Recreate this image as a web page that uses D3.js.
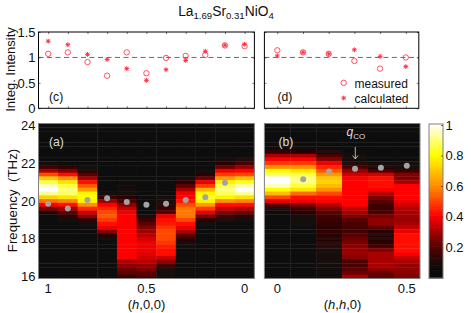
<!DOCTYPE html>
<html><head><meta charset="utf-8">
<script src="https://cdn.jsdelivr.net/npm/d3@7"></script>
<style>
html,body{margin:0;padding:0;background:#fff}
svg{display:block}
text{font-family:"Liberation Sans",Arial,sans-serif;fill:#111}
</style></head><body><div id="c"></div>
<script>
// ---- data ----
const hA = [1,.9,.8,.7,.6,.5,.4,.3,.2,.1,0];
const hB = [0,.1,.2,.3,.4,.5];
const measuredC   = [1.07,1.10,.91,.64,1.10,.69,.99,1.03,1.05,1.235,1.22];
const calculatedC = [1.32,1.25,1.06,.96,.78,.55,.76,.94,1.12,1.24,1.26];
const measuredD   = [1.14,1.10,1.07,.93,.78,1.00];
const calculatedD = [1.03,1.10,1.07,1.15,1.02,.82];
const peakA = [19.86,19.6,20.05,20.14,19.95,19.8,19.86,20.05,20.2,20.96];
const peakHA = [1,.9,.8,.7,.6,.5,.4,.3,.2,.1];
const peakB = [21.15,21.56,21.7,21.76,21.87];
const peakHB = [.1,.2,.3,.4,.5];
const freqTop = 24, freqStep = 0.2;
// intensity per column, rows from 24 THz down to 16 THz in 0.2 THz steps (41 rows)
const mapA = [
[.02,.02,.02,.02,.02,.02,.02,.02,.02,.04,.07,.15,.3,.5,.7,.85,.95,1,.92,.72,.55,.4,.25,.12,.03,.02,.02,.02,.02,.02,.02,.02,.02,.02,.02,.02,.02,.02,.02,.02,.02],
[.02,.02,.02,.02,.02,.02,.02,.02,.02,.03,.05,.13,.25,.42,.6,.75,.85,.9,.88,.75,.58,.42,.3,.2,.13,.07,.03,.02,.02,.02,.02,.02,.02,.02,.02,.02,.02,.02,.02,.02,.02],
[.02,.02,.02,.02,.02,.02,.02,.02,.02,.03,.05,.07,.1,.2,.3,.42,.52,.62,.78,.8,.78,.6,.45,.35,.27,.15,.06,.03,.02,.02,.02,.02,.02,.02,.02,.02,.02,.02,.02,.02,.02],
[.02,.02,.02,.02,.02,.02,.02,.02,.02,.02,.02,.02,.02,.02,.02,.03,.03,.04,.06,.15,.28,.4,.45,.5,.52,.48,.42,.38,.25,.12,.06,.04,.03,.02,.02,.02,.02,.02,.02,.02,.02],
[.02,.02,.02,.02,.02,.02,.02,.02,.02,.02,.02,.03,.03,.04,.05,.05,.06,.07,.08,.12,.18,.27,.33,.38,.4,.4,.4,.4,.4,.4,.4,.4,.4,.4,.4,.4,.3,.27,.22,.2,.15],
[.02,.02,.02,.02,.02,.02,.02,.02,.02,.02,.02,.02,.02,.02,.02,.02,.02,.02,.02,.02,.02,.03,.04,.05,.08,.15,.2,.25,.29,.32,.35,.38,.38,.38,.37,.35,.32,.28,.25,.2,.18],
[.02,.02,.02,.02,.02,.02,.02,.02,.02,.02,.02,.02,.02,.02,.03,.03,.04,.04,.05,.07,.09,.11,.15,.2,.38,.42,.43,.47,.5,.5,.5,.47,.44,.42,.42,.34,.26,.16,.1,.08,.06],
[.02,.02,.02,.02,.02,.02,.02,.02,.02,.02,.02,.02,.03,.05,.07,.12,.2,.3,.38,.4,.43,.5,.56,.57,.56,.5,.42,.38,.3,.2,.13,.08,.06,.03,.02,.02,.02,.02,.02,.02,.02],
[.02,.02,.02,.02,.02,.02,.02,.02,.02,.02,.03,.05,.08,.12,.22,.38,.48,.66,.78,.82,.78,.62,.48,.38,.25,.13,.06,.03,.02,.02,.02,.02,.02,.02,.02,.02,.02,.02,.02,.02,.02],
[.02,.02,.02,.02,.02,.02,.02,.03,.05,.08,.12,.22,.38,.48,.62,.78,.87,.9,.87,.78,.6,.42,.34,.25,.17,.1,.05,.03,.02,.02,.02,.02,.02,.02,.02,.02,.02,.02,.02,.02,.02],
[.02,.02,.02,.02,.02,.02,.02,.03,.05,.1,.17,.28,.4,.5,.68,.82,.93,1,.92,.75,.58,.42,.32,.23,.13,.08,.04,.02,.02,.02,.02,.02,.02,.02,.02,.02,.02,.02,.02,.02,.02]
];
const mapB = [
[.02,.02,.02,.02,.02,.03,.05,.14,.3,.4,.48,.6,.8,.88,1,1,.95,.8,.68,.5,.38,.2,.1,.05,.03,.02,.02,.02,.02,.02,.02,.02,.02,.02,.02,.02,.02,.02,.02,.02,.02],
[.02,.02,.02,.02,.02,.03,.05,.12,.3,.4,.48,.6,.75,.85,.9,.9,.85,.75,.55,.42,.38,.25,.15,.12,.08,.07,.06,.05,.04,.03,.03,.03,.02,.02,.02,.02,.02,.02,.02,.02,.02],
[.02,.02,.02,.02,.02,.03,.05,.1,.17,.25,.38,.45,.52,.62,.7,.72,.68,.6,.5,.42,.4,.32,.25,.2,.16,.15,.13,.12,.13,.12,.11,.11,.1,.09,.08,.08,.07,.07,.06,.06,.06],
[.02,.02,.02,.02,.02,.03,.04,.05,.06,.07,.1,.18,.28,.34,.4,.4,.4,.4,.4,.4,.4,.4,.33,.3,.25,.2,.17,.16,.16,.2,.22,.24,.27,.28,.28,.26,.18,.17,.2,.22,.3],
[.02,.02,.02,.02,.02,.02,.03,.03,.04,.05,.07,.1,.18,.35,.42,.42,.42,.4,.32,.24,.2,.15,.15,.17,.24,.27,.27,.2,.12,.11,.11,.12,.17,.25,.3,.3,.3,.3,.27,.22,.2],
[.02,.02,.02,.02,.02,.02,.03,.03,.04,.05,.06,.08,.15,.25,.25,.3,.4,.4,.4,.4,.38,.35,.32,.3,.29,.28,.3,.33,.38,.42,.42,.42,.42,.42,.4,.34,.3,.28,.27,.26,.25]
];
const colorStops = [[0,"#0a0a0a"],[.05,"#0e0a0a"],[.1,"#200808"],[.2,"#5a0000"],[.3,"#a80000"],[.4,"#ff0000"],[.5,"#ff4a00"],[.6,"#ff9000"],[.7,"#ffc800"],[.8,"#ffff00"],[.9,"#ffff80"],[1,"#ffffff"]];
const yTicksTop = [0,.5,1,1.5], yTicksTopLabels = ["0","0.5","1","1.5"];
const yTicksFreq = [16,18,20,22,24];
const cbTicks = [.2,.4,.6,.8,1];

// ---- layout ----
const W=471,H=313;
const svg=d3.select("#c").append("svg").attr("width",W).attr("height",H);
const red="#ff2a3c", frame="#000", heatFrame="#808080";
const color=d3.scaleLinear().domain(colorStops.map(d=>d[0])).range(colorStops.map(d=>d[1])).clamp(true);

const defs=svg.append("defs");
defs.append("filter").attr("id","soft").attr("x","-2%").attr("y","-2%").attr("width","104%").attr("height","104%")
  .append("feGaussianBlur").attr("stdDeviation",.45);

const xC=d3.scaleLinear().domain([1,0]).range([48.2,244.6]);
const xA=xC;
const xD=d3.scaleLinear().domain([0,.5]).range([277.3,405.8]);
const xB=d3.scaleLinear().domain([0,.5]).range([277.3,406.8]);
const yTop=d3.scaleLinear().domain([0,1.5]).range([108.3,32]);
const yF=d3.scaleLinear().domain([16,24]).range([276.6,125.4]);
const yCb=d3.scaleLinear().domain([0,1]).range([277.5,125]);

function clean(sel){sel.select(".domain").remove();sel.selectAll("line").attr("stroke","#333").attr("stroke-width",.7);}
function star(sel){
  sel.attr("d","M-2.4,0H2.4M0,-2.4V2.4M-1.8,-1.8L1.8,1.8M-1.8,1.8L1.8,-1.8")
    .attr("fill","none").attr("stroke",red).attr("stroke-width",.95);
}
function topPanel(x,l,r,hs,meas,calc){
  const g=svg.append("g");
  g.append("line").attr("x1",l).attr("x2",r).attr("y1",yTop(1)).attr("y2",yTop(1))
    .attr("stroke","#444").attr("stroke-width",.8).attr("stroke-dasharray","5,3.5");
  const ax=(gen)=>gen.tickSizeInner(2).tickSizeOuter(0).tickFormat("");
  g.append("g").attr("transform",`translate(0,${yTop(0)})`).call(ax(d3.axisTop(x).tickValues(hs))).call(clean);
  g.append("g").attr("transform",`translate(0,${yTop(1.5)})`).call(ax(d3.axisBottom(x).tickValues(hs))).call(clean);
  g.append("g").attr("transform",`translate(${l},0)`).call(ax(d3.axisRight(yTop).tickValues(yTicksTop))).call(clean);
  g.append("g").attr("transform",`translate(${r},0)`).call(ax(d3.axisLeft(yTop).tickValues(yTicksTop))).call(clean);
  g.append("rect").attr("x",l).attr("y",yTop(1.5)).attr("width",r-l).attr("height",yTop(0)-yTop(1.5))
    .attr("fill","none").attr("stroke",frame).attr("stroke-width",1);
  g.selectAll("circle.m").data(hs).join("circle").attr("class","m")
    .attr("cx",d=>x(d)).attr("cy",(d,i)=>yTop(meas[i])).attr("r",2.7)
    .attr("fill","none").attr("stroke",red).attr("stroke-width",.8);
  g.selectAll("path.s").data(hs).join("path").attr("class","s")
    .attr("transform",(d,i)=>`translate(${x(d)},${yTop(calc[i])})`).call(star);
}

topPanel(xC,38.5,254.4,hA,measuredC,calculatedC);
topPanel(xD,264.4,418.8,hB,measuredD,calculatedD);

yTicksTop.forEach((t,i)=>svg.append("text").attr("x",35.5).attr("y",yTop(t)).attr("dy","0.36em").attr("text-anchor","end").attr("font-size",13).text(yTicksTopLabels[i]));
svg.append("text").attr("transform","translate(15,69.5) rotate(-90)").attr("text-anchor","middle").attr("font-size",13).text("Integ. Intensity");

const title=svg.append("text").attr("x",226).attr("y",15.7).attr("text-anchor","middle").attr("font-size",13.8);
title.append("tspan").text("La");
title.append("tspan").attr("dy",3.2).attr("font-size",9.6).text("1.69");
title.append("tspan").attr("dy",-3.2).text("Sr");
title.append("tspan").attr("dy",3.2).attr("font-size",9.6).text("0.31");
title.append("tspan").attr("dy",-3.2).text("NiO");
title.append("tspan").attr("dy",3.2).attr("font-size",9.6).text("4");

svg.append("text").attr("x",49).attr("y",101).attr("font-size",12.2).text("(c)");
svg.append("text").attr("x",277.5).attr("y",101).attr("font-size",12.2).text("(d)");

svg.append("circle").attr("cx",343.7).attr("cy",82.8).attr("r",2.7).attr("fill","none").attr("stroke",red).attr("stroke-width",.8);
svg.append("path").attr("transform","translate(343.7,98)").call(star);
svg.append("text").attr("x",354.5).attr("y",87.5).attr("font-size",12).text("measured");
svg.append("text").attr("x",354.5).attr("y",102.5).attr("font-size",12).text("calculated");

function heat(x,l,r,hs,map,ph,pk){
  const clip="clip"+Math.round(l);
  svg.append("clipPath").attr("id",clip).append("rect").attr("x",l).attr("y",123.5).attr("width",r-l).attr("height",155);
  const outer=svg.append("g").attr("clip-path",`url(#${clip})`);
  const g=outer.append("g").attr("filter","url(#soft)");
  const cw=Math.abs(x(hs[1])-x(hs[0])), rh=Math.abs(yF(16)-yF(16.2));
  const cols=g.selectAll("g").data(map).join("g");
  cols.selectAll("rect").data((col,i)=>col.map((v,j)=>({v,h:hs[i],f:freqTop-j*freqStep}))).join("rect")
    .attr("x",d=>x(d.h)-cw/2).attr("y",d=>yF(d.f)-rh/2).attr("width",cw+.4).attr("height",rh+.4)
    .attr("fill",d=>color(d.v));
  const o=svg.append("g");
  o.selectAll("circle").data(ph).join("circle").attr("cx",d=>x(d)).attr("cy",(d,i)=>yF(pk[i])).attr("r",3).attr("fill","#a3a3a3");
  o.append("rect").attr("x",l).attr("y",123.5).attr("width",r-l).attr("height",155).attr("fill","none").attr("stroke",heatFrame).attr("stroke-width",1);
}
heat(xA,38.5,254.4,hA,mapA,peakHA,peakA);
heat(xB,264.4,420,hB,mapB,peakHB,peakB);

yTicksFreq.forEach(t=>svg.append("text").attr("x",35.5).attr("y",yF(t)).attr("dy","0.36em").attr("text-anchor","end").attr("font-size",13).text(t));
svg.append("text").attr("transform","translate(16.5,200.5) rotate(-90)").attr("text-anchor","middle").attr("font-size",13.3).text("Frequency\u00A0 (THz)");

[[1,"1"],[.5,"0.5"],[0,"0"]].forEach(([v,s])=>svg.append("text").attr("x",xA(v)).attr("y",293).attr("text-anchor","middle").attr("font-size",13).text(s));
[[0,"0"],[.5,"0.5"]].forEach(([v,s])=>svg.append("text").attr("x",xB(v)).attr("y",293).attr("text-anchor","middle").attr("font-size",13).text(s));

function hkl(x,parts){const t=svg.append("text").attr("x",x).attr("y",309).attr("text-anchor","middle").attr("font-size",13);
  parts.forEach(p=>{const s=t.append("tspan").text(p);if(p==="h")s.attr("font-style","italic");});}
hkl(146.5,["(","h",",0,0)"]);
hkl(342.5,["(","h",",","h",",0)"]);

svg.append("text").attr("x",49).attr("y",146).attr("font-size",12.2).style("fill","#ddd").text("(a)");
svg.append("text").attr("x",278.5).attr("y",146).attr("font-size",12.2).style("fill","#ddd").text("(b)");
const q=svg.append("text").attr("x",346.5).attr("y",136).attr("font-size",12).style("fill","#ddd");
q.append("tspan").attr("font-style","italic").text("q").style("fill","#ddd");
q.append("tspan").attr("dy",3).attr("font-size",8).text("CO").style("fill","#ddd");
svg.append("path").attr("d","M355.3,147V158.5M352.6,155.5L355.3,159L358,155.5").attr("fill","none").attr("stroke","#ddd").attr("stroke-width",.8);

const cbVals=d3.range(0,1,1/64);
svg.append("g").selectAll("rect").data(cbVals).join("rect")
  .attr("x",429).attr("width",14)
  .attr("y",d=>yCb(d+1/64)-.3).attr("height",Math.abs(yCb(0)-yCb(1/64))+.6).attr("fill",d=>color(d));
svg.append("rect").attr("x",429).attr("y",124).attr("width",14).attr("height",154.5).attr("fill","none").attr("stroke",heatFrame).attr("stroke-width",1);
svg.append("g").attr("transform","translate(443,0)").call(d3.axisLeft(yCb).tickValues(cbTicks).tickSizeInner(2).tickSizeOuter(0).tickFormat("")).call(clean);
cbTicks.forEach(t=>svg.append("text").attr("x",445.5).attr("y",yCb(t)).attr("dy","0.36em").attr("font-size",13).text(t));
</script></body></html>
